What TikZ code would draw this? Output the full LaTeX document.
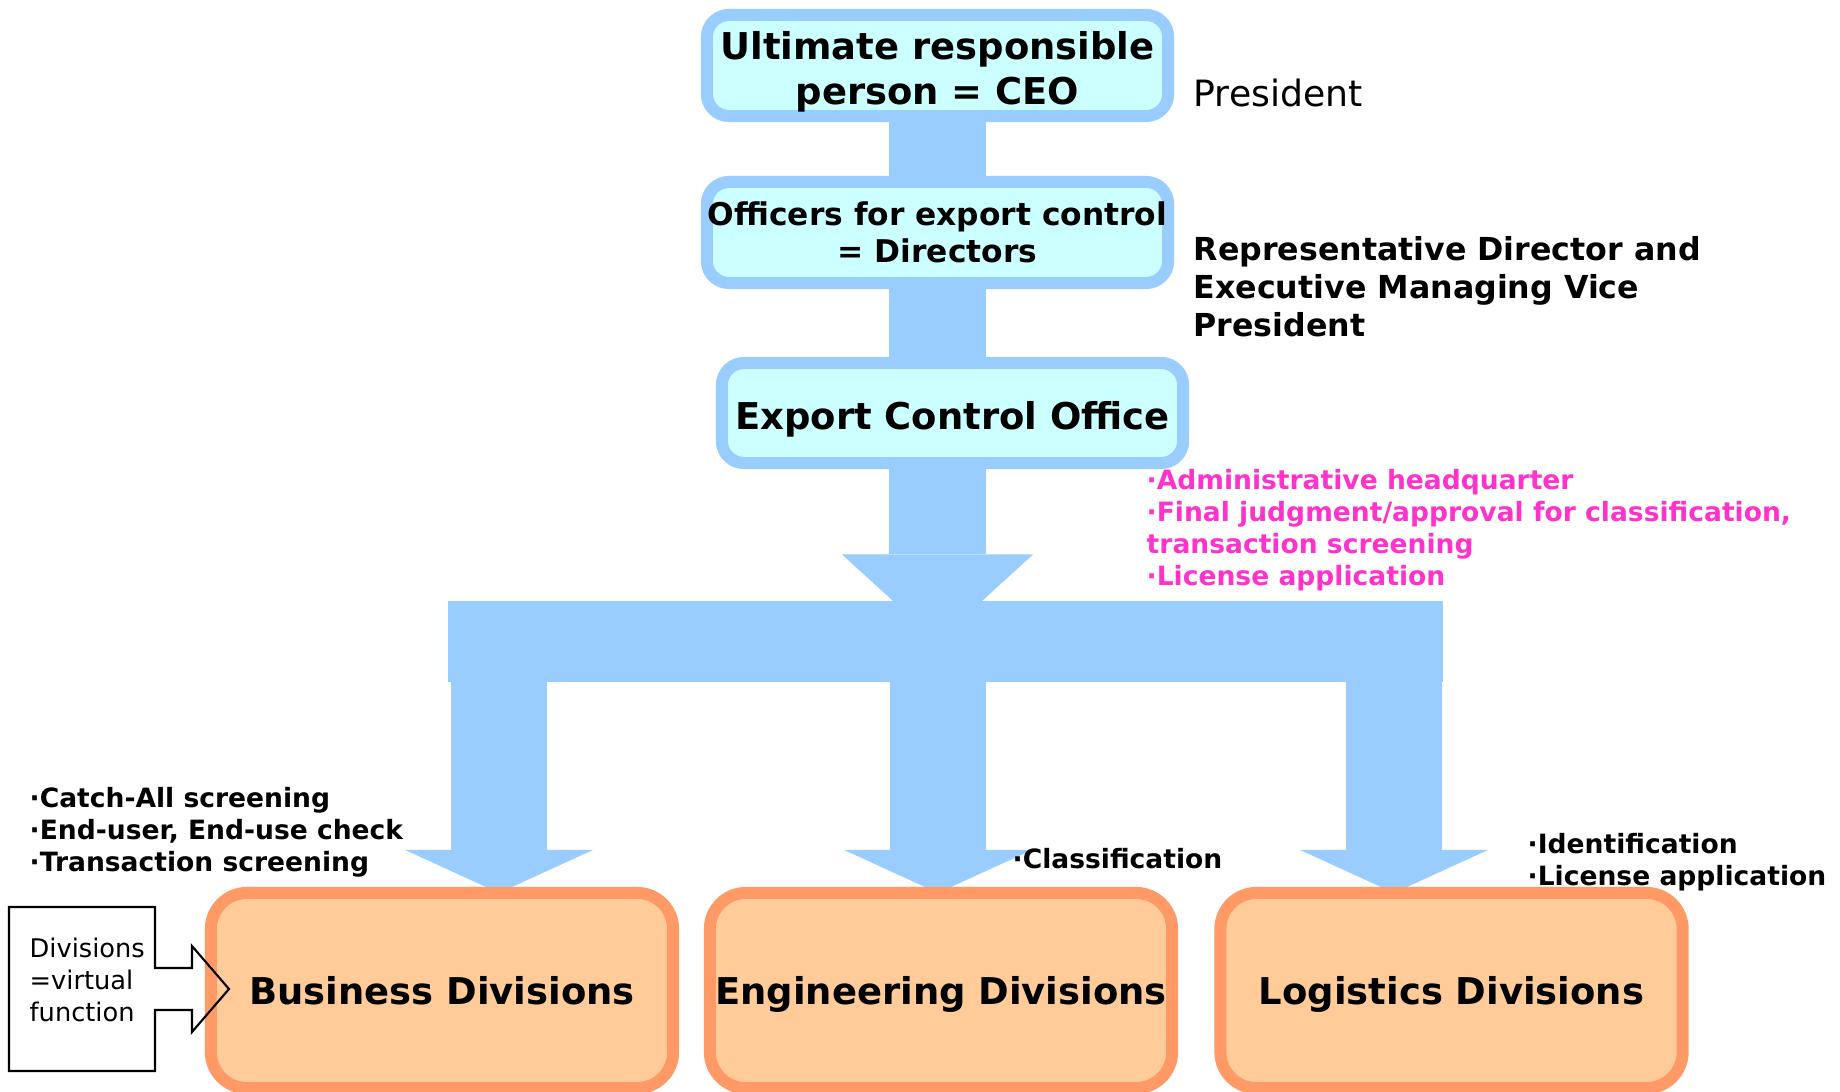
\documentclass[tikz,border=0pt]{standalone}
\usepackage{fontspec}
\setmainfont{DejaVu Sans}
\usepackage{tikz}
\usetikzlibrary{calc, arrows.meta, backgrounds}

\definecolor{officeFill}{HTML}{CCFFFF}
\definecolor{officeLine}{HTML}{99CCFF}
\definecolor{divisionFill}{HTML}{FFCC99}
\definecolor{divisionLine}{HTML}{FF9966}
\definecolor{dutyPink}{HTML}{FF33CC}

\tikzset{
	officeBox/.style={draw=officeLine, fill=officeFill, line width=0.12cm, rounded corners=0.22cm, inner sep=0pt, outer sep=0pt, minimum width=4.61cm, minimum height=1.01cm, align=center},
	divisionBox/.style={draw=divisionLine, fill=divisionFill, line width=0.12cm, rounded corners=0.36cm, inner sep=0pt, outer sep=0pt, minimum width=4.62cm, minimum height=1.95cm, text depth=0pt, font=\fontsize{10.5}{12.6}\selectfont\bfseries},
	dutyList/.style={anchor=west, align=left, inner sep=0pt, font=\fontsize{7.55}{9.1}\selectfont\bfseries},
	flowStem/.style={draw=officeLine, line width=0.96cm}
}

\begin{document}
\begin{tikzpicture}[x=0.01cm, y=-0.01cm]
			\def\dropStrut{\rule{0pt}{11.7pt}}
			\useasboundingbox (0,0) rectangle (1840,1092);

			\node[officeBox, font=\fontsize{10.5}{12.8}\selectfont\bfseries] (ceo) at (937.5,65.5) {\dropStrut Ultimate responsible\\person = CEO};
			\node[officeBox, font=\fontsize{8.9}{10.6}\selectfont\bfseries] (dir) at (937.5,232.5) {Officers for export control\\= Directors};
			\node[officeBox, minimum height=1cm, font=\fontsize{10.5}{12.6}\selectfont\bfseries] (office) at (952.5,413) {\dropStrut Export Control Office};

			\node[anchor=west, inner sep=0pt, font=\fontsize{10.3}{12}\selectfont] (pres) at (1193,93) {President};
			\node[anchor=west, align=left, inner sep=0pt, font=\fontsize{9}{10.8}\selectfont\bfseries] (repDir) at (1193,287) {Representative Director and\\Executive Managing Vice\\President};
			\node[dutyList, text=dutyPink] (hqDuty) at (1146,530.5) {·Administrative headquarter\\·Final judgment/approval for classification,\\transaction screening\\·License application};

			\node[fill=officeLine, inner sep=0pt, outer sep=0pt, minimum width=9.95cm, minimum height=0.81cm] (bar) at (945.5,641.5) {};

			\node[divisionBox] (biz) at (442,990.5) {Business Divisions};
			\node[divisionBox] (eng) at (941,990.5) {Engineering Divisions};
			\node[divisionBox] (logi) at (1451.5,990.5) {Logistics Divisions};

			\node[dutyList] (bizDuty) at (29,832.5) {·Catch-All screening\\·End-user, End-use check\\·Transaction screening};
			\node[dutyList] (engDuty) at (1012,859) {·Classification};
			\node[dutyList] (logiDuty) at (1527,862.5) {·Identification\\·License application};

			\node[anchor=west, align=left, inner sep=0pt, font=\fontsize{7.3}{9.1}\selectfont] (virt) at (29,980) {Divisions\\=virtual\\function};
			\draw[line width=0.6pt] (9,907) -- (155,907) -- (155,968) -- (192,968) -- (192,946) -- (229,989) -- (192,1032) -- (192,1010) -- (155,1010) -- (155,1071) -- (9,1071) -- cycle;

			\begin{scope}[on background layer]
				\fill[white] (0,0) rectangle (1840,1092);
				\draw[flowStem] (ceo.south) -- (dir.north);
				\draw[flowStem] (dir.south) -- (dir.south |- office.north);
				\draw[flowStem, -{Triangle[width=1.91cm, length=0.87cm, line width=0pt]}] (dir.south |- office.south) -- (dir.south |- bar.center);
				\foreach \dv/\dx in {biz/57, eng/-3, logi/-57.5}
					\draw[flowStem, -{Triangle[width=1.88cm, length=0.43cm, line width=0pt]}] ($(\dv.north)+(\dx,-250)$) -- ($(\dv.north)+(\dx,0)$);
			\end{scope}
		\end{tikzpicture}
\end{document}
